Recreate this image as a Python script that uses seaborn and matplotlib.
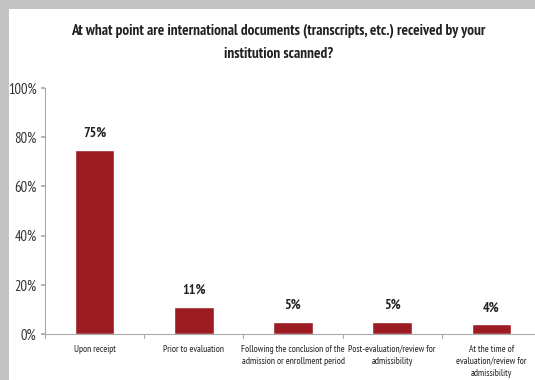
import matplotlib
matplotlib.use("Agg")
import matplotlib.pyplot as plt
import matplotlib.patches as mpatches
from matplotlib.ticker import PercentFormatter
import seaborn as sns
import pandas as pd

# data
categories = [
    "Upon receipt",
    "Prior to evaluation",
    "Following the conclusion of the\nadmission or enrollment period",
    "Post-evaluation/review for\nadmissibility",
    "At the time of\nevaluation/review for\nadmissibility",
]
percent = [75, 11, 5, 5, 4]
title = "At what point are international documents (transcripts, etc.) received by your\ninstitution scanned?"

df = pd.DataFrame({"category": categories, "percent": percent})

sns.set_theme(style="white")
plt.rcParams["font.family"] = ["PT Sans Narrow", "DejaVu Sans"]

fig = plt.figure(figsize=(5.35, 3.8), dpi=100)
fig.patch.set_facecolor("#c3c3c3")
# white chart area inside the gray frame
fig.patches.append(mpatches.Rectangle((9 / 535, 0), 1, 1 - 9 / 380, transform=fig.transFigure,
                                      facecolor="white", edgecolor="none", zorder=-10))

# the plot area runs past the right edge, as in the reference
ax = fig.add_axes([45 / 535, 1 - 334 / 380, 496 / 535, 246 / 380])
ax.set_facecolor("none")
sns.barplot(data=df, x="category", y="percent", color="#9c1c24", saturation=1,
            width=0.4, ax=ax)

for i, v in enumerate(percent):
    ax.text(i, v + 4, f"{v}%", ha="center", va="bottom", fontsize=10,
            fontweight="bold", color="#222222")

ax.set_ylim(0, 100)
ax.set_xlim(-0.5, 4.5)
ax.set_yticks(range(0, 101, 20))
ax.yaxis.set_major_formatter(PercentFormatter(decimals=0))
ax.tick_params(axis="y", labelsize=10.5, colors="#333333", length=3, left=True,
               pad=3)
ax.tick_params(axis="y", color="#aaaaaa")
ax.tick_params(axis="x", labelsize=6.8, colors="#222222", length=0, pad=8)
for lab in ax.get_xticklabels():
    lab.set_linespacing(1.4)
ax.set_xlabel("")
ax.set_ylabel("")
for s in ["top", "right"]:
    ax.spines[s].set_visible(False)
ax.spines["left"].set_color("#aaaaaa")
ax.spines["bottom"].set_color("#aaaaaa")
ax.spines["left"].set_linewidth(0.8)
ax.spines["bottom"].set_linewidth(0.8)

# small separator ticks between categories
for b in [-0.5, 0.5, 1.5, 2.5, 3.5]:
    ax.plot([b, b], [0, -1.5], color="#aaaaaa", lw=0.8, clip_on=False)

fig.text(0.52, 1 - 42 / 380, title, ha="center", va="center", fontsize=11,
         fontweight="bold", color="#222222", linespacing=1.8)

fig.savefig("out.png", dpi=100)
